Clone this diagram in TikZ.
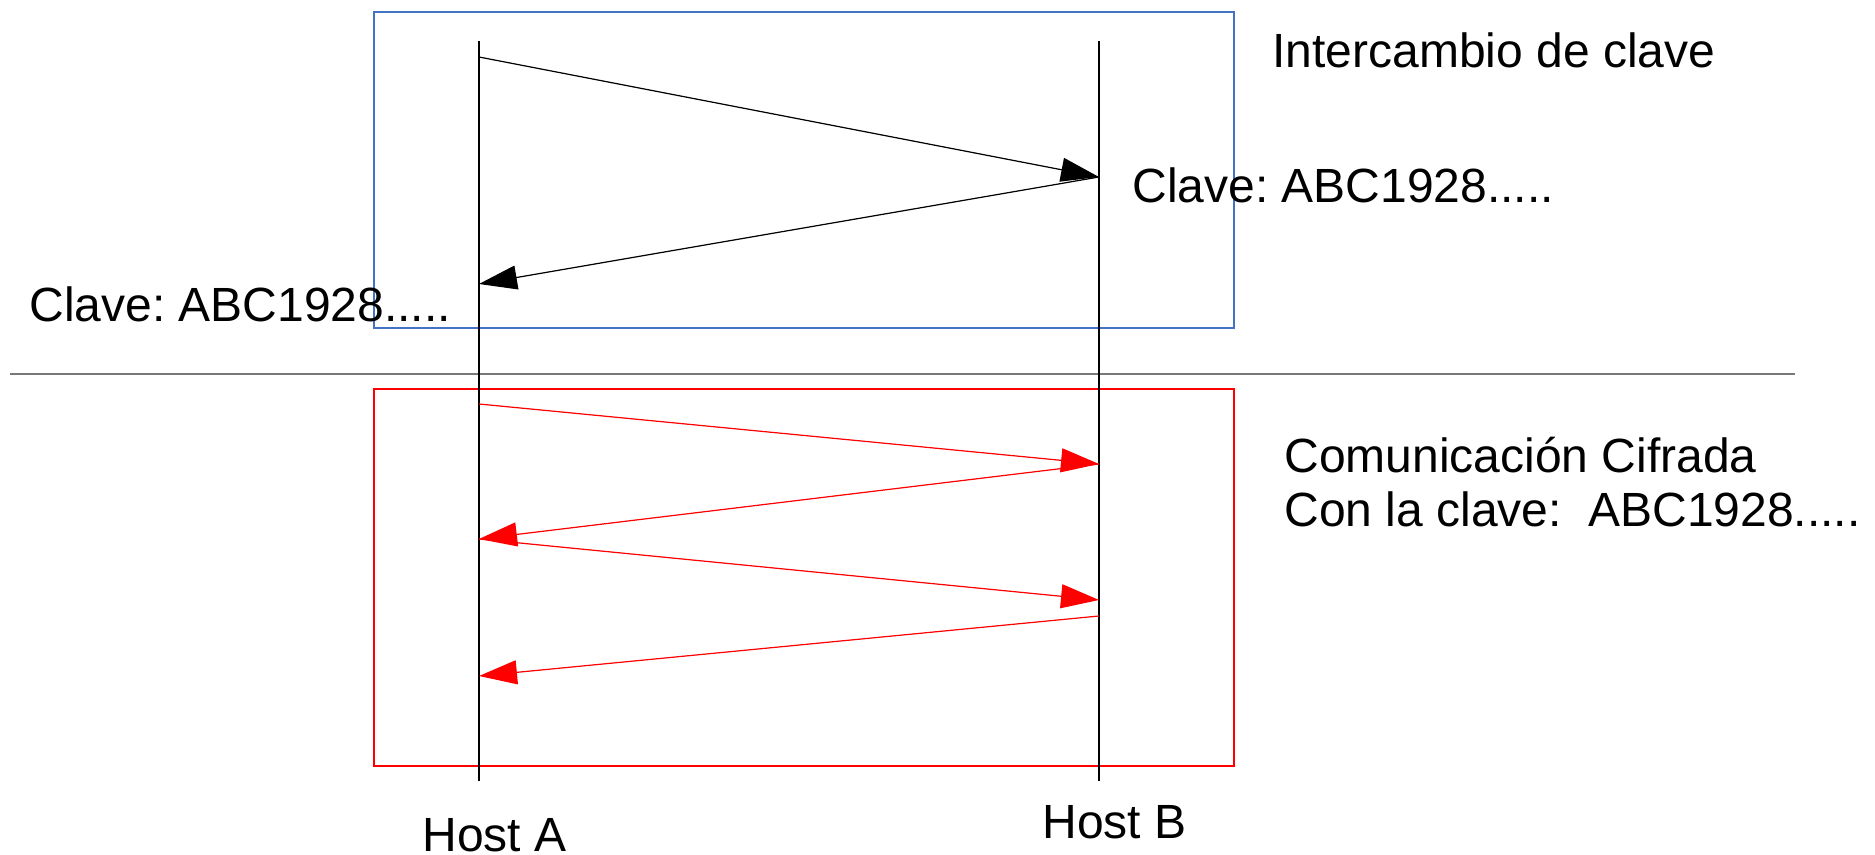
\documentclass[tikz,border=0pt]{standalone}
\usepackage{fontspec}
\setmainfont{Liberation Sans}
\usetikzlibrary{arrows.meta}
\definecolor{boxblue}{RGB}{68,114,196}
\definecolor{sepgray}{RGB}{120,120,120}
\frenchspacing
\tikzset{
  lbl/.style={anchor=base west, inner sep=0pt, font=\fontsize{24}{28.8}\selectfont},
  life/.style={draw=black, line width=0.6pt},
  msg/.style={line width=0.6pt, -{Triangle[length=19pt,width=12pt]}},
  keymsg/.style={msg, draw=black, fill=black},
  ciphmsg/.style={msg, draw=red, fill=red},
  keybox/.style={draw=boxblue, line width=0.75pt},
  ciphbox/.style={draw=red, line width=0.8pt},
  sep/.style={draw=sepgray, line width=1pt}
}
\begin{document}
\begin{tikzpicture}[x=0.5pt,y=-0.5pt]
\useasboundingbox (0,0) rectangle (1875,855);
% boxes
\draw[keybox] (374,12) rectangle (1234,328);
\draw[ciphbox] (374,389) rectangle (1234,766);
% separator
\coordinate (sepL) at (10,374);
\coordinate (sepR) at (1795,374);
\draw[sep] (sepL) -- (sepR);
% lifelines
\coordinate (Atop) at (479,41);
\coordinate (Abot) at (479,781);
\coordinate (Btop) at (1099,41);
\coordinate (Bbot) at (1099,781);
\draw[life] (Atop) -- (Abot);
\draw[life] (Btop) -- (Bbot);
% message points
\coordinate (a1) at (479,57);
\coordinate (b1) at (1099,177);
\coordinate (a2) at (479,284);
\coordinate (a3) at (479,404);
\coordinate (b3) at (1099,464);
\coordinate (a4) at (479,539);
\coordinate (b5) at (1099,600);
\coordinate (b6) at (1099,616);
\coordinate (a6) at (479,676);
% key exchange arrows
\draw[keymsg] (a1) -- (b1);
\draw[keymsg] (b1) -- (a2);
% ciphered arrows
\draw[ciphmsg] (a3) -- (b3);
\draw[ciphmsg] (b3) -- (a4);
\draw[ciphmsg] (a4) -- (b5);
\draw[ciphmsg] (b6) -- (a6);
% labels
\node[lbl] (tkey) at (1272,68) {Intercambio de clave};
\node[lbl] (kB) at (1132,203) {Clave: ABC1928.....};
\node[lbl] (kA) at (29,322) {Clave: ABC1928.....};
\node[lbl] (tc1) at (1284,473) {Comunicación Cifrada};
\node[lbl] (tc2) at (1284,527) {Con la clave:\ \ ABC1928.....};
\node[lbl] (hA) at (422,851) {Host A};
\node[lbl] (hB) at (1042,838) {Host B};
\end{tikzpicture}
\end{document}
